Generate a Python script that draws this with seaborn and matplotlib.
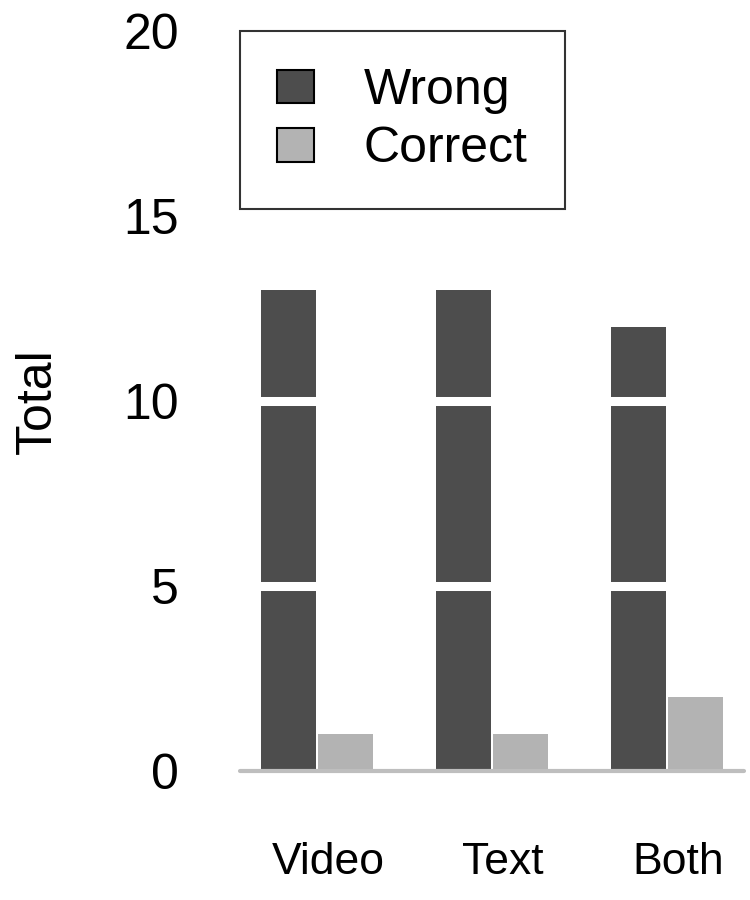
import matplotlib
matplotlib.use("Agg")
import matplotlib.pyplot as plt
import matplotlib.transforms as mtransforms
from matplotlib.patches import Patch
import pandas as pd
import seaborn as sns

# data
conditions = ["Video", "Text", "Both"]
wrong = [13, 13, 12]
correct = [1, 1, 2]
answer_types = ["Wrong", "Correct"]

df = pd.DataFrame({
    "Condition": conditions * 2,
    "Answer": ["Wrong"] * 3 + ["Correct"] * 3,
    "Total": wrong + correct,
})

sns.set_style("white")
plt.rcParams["font.family"] = ["Liberation Sans", "DejaVu Sans"]
plt.rcParams["text.color"] = "black"
plt.rcParams["xtick.color"] = "black"
plt.rcParams["ytick.color"] = "black"
plt.rcParams["axes.labelcolor"] = "black"

colors = {"Wrong": "#4D4D4D", "Correct": "#B3B3B3"}

fig = plt.figure(figsize=(7.5, 9), dpi=100)
ax = fig.add_axes([0.32, 0.1433, 0.672, 0.8223])

sns.barplot(data=df, x="Condition", y="Total", hue="Answer",
            hue_order=answer_types, order=conditions, palette=colors,
            width=0.655, gap=0.05, linewidth=0, saturation=1, ax=ax,
            legend=False)

ax.set_ylim(0, 20)
ax.set_xlim(-0.44, 2.44)
ax.set_yticks([0, 5, 10, 15, 20])
ax.yaxis.grid(True, color="white", linewidth=6.5)
ax.xaxis.grid(False)
ax.set_axisbelow(False)
# no white gridline at 0, it would eat the bottom of the bars
ax.yaxis.get_major_ticks()[0].gridline.set_visible(False)
# grey baseline, drawn unclipped so it keeps its full width
ax.axhline(0, color="#BEBEBE", linewidth=3, zorder=5, clip_on=False)

for s in ax.spines.values():
    s.set_visible(False)

ax.tick_params(axis="both", length=0)
ax.tick_params(axis="y", pad=44, labelsize=36)
ax.tick_params(axis="x", pad=51, labelsize=32)
shift = mtransforms.ScaledTranslation(11 / 100, 0, fig.dpi_scale_trans)
for lbl in ax.get_xticklabels():
    lbl.set_transform(lbl.get_transform() + shift)
ax.set_xlabel("")
ax.set_ylabel("Total", fontsize=36)
ax.yaxis.set_label_coords(-0.355, 0.5)

handles = [Patch(facecolor=colors[a], edgecolor="black", linewidth=1.5, label=a)
           for a in answer_types]
leg = ax.legend(handles=handles, loc="upper left", bbox_to_anchor=(0, 1.0),
                borderaxespad=0, fontsize=36, frameon=True, fancybox=False,
                handlelength=0.74, handleheight=0.66, handletextpad=1.0,
                borderpad=0.74, labelspacing=0.25)
leg.get_frame().set_edgecolor("black")
leg.get_frame().set_linewidth(1.5)

fig.savefig("out.png", dpi=100)
